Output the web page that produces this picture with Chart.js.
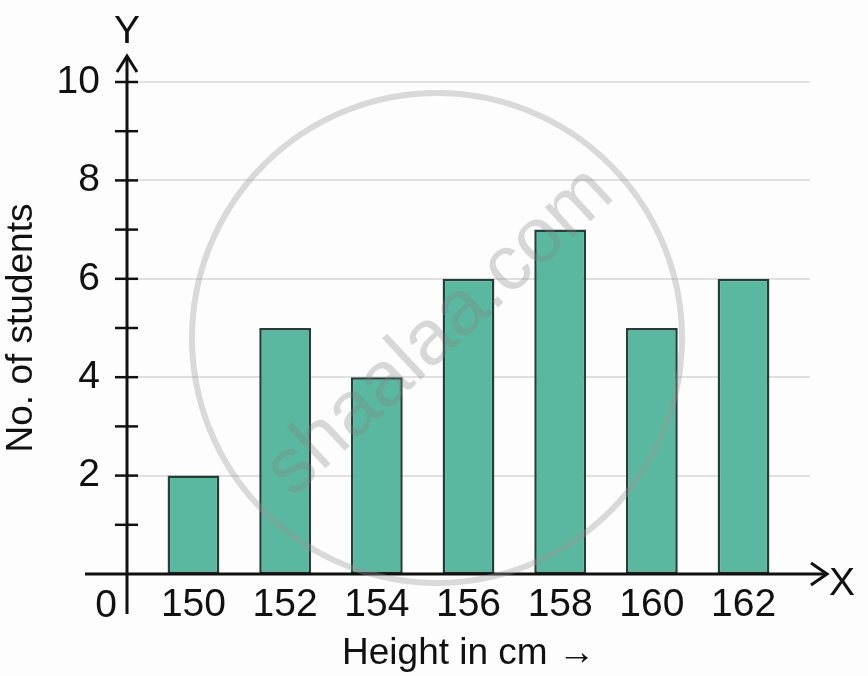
<!DOCTYPE html>
<html>
<head>
<meta charset="utf-8">
<script src="https://cdn.jsdelivr.net/npm/chart.js@4.4.1/dist/chart.umd.min.js"></script>
<style>
  html, body { margin: 0; padding: 0; background: #fdfdfd; }
</style>
</head>
<body>
<canvas id="barChart" width="868" height="676"></canvas>
<script>
// data
const heights = [150, 152, 154, 156, 158, 160, 162];
const students = [2, 5, 4, 6, 7, 5, 6];
const yTickLabels = [2, 4, 6, 8, 10];
const yTickMarks = [1, 2, 3, 4, 5, 6, 7, 8, 9, 10];

const FONT = '"Liberation Sans", Arial, Helvetica, sans-serif';
const FSIZE = 39;

// draws the arrowed axes, small ticks, axis letters and the watermark
const axesPlugin = {
  id: 'axesPlugin',
  afterDatasetsDraw(chart) {
    const ctx = chart.ctx;
    const ys = chart.scales.y;
    const x0 = chart.chartArea.left;
    const y0 = ys.getPixelForValue(0);

    ctx.save();
    ctx.strokeStyle = '#111';
    ctx.lineWidth = 3;

    // y axis
    ctx.beginPath();
    ctx.moveTo(x0, 614);
    ctx.lineTo(x0, 56);
    ctx.stroke();
    ctx.beginPath();
    ctx.moveTo(x0 - 10, 72);
    ctx.lineTo(x0, 56);
    ctx.lineTo(x0 + 10, 72);
    ctx.stroke();

    // x axis
    ctx.beginPath();
    ctx.moveTo(85, y0);
    ctx.lineTo(827, y0);
    ctx.stroke();
    ctx.beginPath();
    ctx.moveTo(811, y0 - 11);
    ctx.lineTo(827, y0);
    ctx.lineTo(811, y0 + 11);
    ctx.stroke();

    // tick marks across the y axis
    ctx.lineWidth = 2.5;
    yTickMarks.forEach(v => {
      const py = ys.getPixelForValue(v);
      ctx.beginPath();
      ctx.moveTo(x0 - 12, py);
      ctx.lineTo(x0 + 11, py);
      ctx.stroke();
    });

    ctx.fillStyle = '#111';
    ctx.font = FSIZE + 'px ' + FONT;
    ctx.textBaseline = 'middle';
    ctx.textAlign = 'center';
    ctx.fillText('Y', x0, 32);
    ctx.textAlign = 'left';
    ctx.fillText('X', 829, y0 + 10);
    ctx.textAlign = 'right';
    ctx.fillText('0', x0 - 10, y0 + 32);
    ctx.restore();
  },
  afterDraw(chart) {
    // faint watermark
    const ctx = chart.ctx;
    ctx.save();
    ctx.strokeStyle = 'rgba(150,150,150,0.35)';
    ctx.lineWidth = 6;
    ctx.beginPath();
    ctx.arc(437, 338, 245, 0, Math.PI * 2);
    ctx.stroke();
    ctx.translate(440, 332);
    ctx.rotate(-43 * Math.PI / 180);
    ctx.fillStyle = 'rgba(130,130,130,0.3)';
    ctx.font = '78px ' + FONT;
    ctx.textAlign = 'center';
    ctx.textBaseline = 'middle';
    ctx.fillText('shaalaa.com', 0, 0);
    ctx.restore();
  }
};

const ctx = document.getElementById('barChart').getContext('2d');
const chart = new Chart(ctx, {
  type: 'bar',
  data: {
    datasets: [{
      data: heights.map((h, i) => ({ x: h, y: students[i] })),
      backgroundColor: '#5bb8a0',
      borderColor: '#233f38',
      borderWidth: 2.5,
      borderSkipped: false,
      categoryPercentage: 1,
      barPercentage: 0.565
    }]
  },
  options: {
    responsive: false,
    animation: false,
    devicePixelRatio: 1,
    layout: { padding: { left: 0, right: 58, top: 82, bottom: 0 } },
    plugins: {
      legend: { display: false },
      tooltip: { enabled: false }
    },
    scales: {
      x: {
        type: 'linear',
        offset: false,
        min: 148.55,
        max: 163.45,
        afterBuildTicks: scale => { scale.ticks = heights.map(v => ({ value: v })); },
        afterFit: scale => { scale.height = 102; },
        grid: { display: false, drawTicks: false },
        border: { display: false },
        ticks: {
          padding: 8,
          color: '#111',
          font: { family: FONT, size: FSIZE },
          callback: v => String(v),
          maxRotation: 0,
          autoSkip: false
        },
        title: {
          display: true,
          text: 'Height in cm \u2192',
          color: '#111',
          font: { family: FONT, size: 37 },
          padding: 0
        }
      },
      y: {
        min: 0,
        max: 10,
        afterBuildTicks: scale => { scale.ticks = yTickLabels.map(v => ({ value: v })); },
        afterFit: scale => { scale.width = 127; },
        grid: { color: '#e0e0e0', lineWidth: 2, drawTicks: false },
        border: { display: false },
        ticks: {
          padding: 27,
          color: '#111',
          font: { family: FONT, size: FSIZE }
        },
        title: {
          display: true,
          text: 'No. of students',
          color: '#111',
          font: { family: FONT, size: 37 },
          padding: 0
        }
      }
    }
  },
  plugins: [axesPlugin]
});
</script>
</body>
</html>
